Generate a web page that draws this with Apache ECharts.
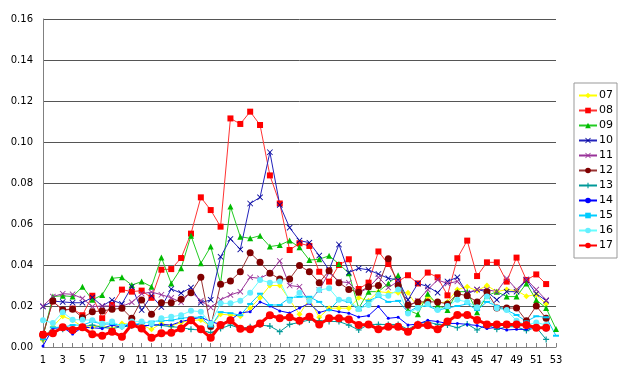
<!DOCTYPE html>
<html>
<head>
<meta charset="utf-8">
<script src="https://cdn.jsdelivr.net/npm/echarts@6/dist/echarts.min.js"></script>
<style>
html,body{margin:0;padding:0;background:#fff;}
#chart{width:620px;height:384px;}
</style>
</head>
<body>
<div id="chart"></div>
<script>
var weeks = [];
for (var i = 1; i <= 53; i++) weeks.push(String(i));

var seriesNames = ['07','08','09','10','11','12','13','14','15','16','17'];

var s07 = [0.0034,0.010,0.015,0.013,0.010,0.0096,0.0107,0.009,0.0115,0.011,0.0107,0.0086,0.0115,0.0102,0.012,0.013,0.0132,0.010,0.016,0.0156,0.015,0.019,0.024,0.030,0.030,0.023,0.016,0.0233,0.0145,0.0189,0.0189,0.0189,0.024,0.0226,0.027,0.0265,0.0265,0.0265,0.0193,0.0245,0.0215,0.022,0.028,0.0294,0.0275,0.030,0.027,0.028,0.0275,0.0248,0.0255,0.021];
var s08 = [0.0063,0.0223,0.018,0.0187,0.0155,0.025,0.014,0.0205,0.028,0.027,0.0275,0.024,0.0377,0.038,0.0434,0.0553,0.073,0.0668,0.0587,0.1115,0.1088,0.1148,0.1083,0.0837,0.070,0.0473,0.0506,0.0493,0.0367,0.0319,0.040,0.0428,0.0283,0.0314,0.0466,0.0405,0.032,0.035,0.031,0.0363,0.034,0.0252,0.0433,0.0519,0.0346,0.0413,0.0413,0.0319,0.0436,0.0327,0.0354,0.0307];
var s09 = [0.005,0.0246,0.025,0.0246,0.0294,0.023,0.0254,0.0335,0.034,0.0302,0.0319,0.0294,0.0437,0.031,0.0384,0.0543,0.0408,0.049,0.031,0.0685,0.0538,0.053,0.0543,0.049,0.0497,0.0519,0.0486,0.0424,0.0428,0.0445,0.0405,0.036,0.0189,0.027,0.027,0.031,0.035,0.018,0.016,0.026,0.0205,0.018,0.027,0.027,0.017,0.025,0.027,0.0246,0.0246,0.031,0.0229,0.019,0.0088];
var s10 = [0.0197,0.0224,0.022,0.0216,0.0216,0.0242,0.020,0.0229,0.021,0.0294,0.018,0.025,0.0195,0.0283,0.0263,0.029,0.0216,0.023,0.044,0.0527,0.0476,0.070,0.073,0.095,0.0693,0.0582,0.0519,0.0509,0.0446,0.0376,0.050,0.0363,0.0384,0.0376,0.0356,0.0335,0.0327,0.023,0.031,0.0295,0.0265,0.032,0.034,0.026,0.028,0.027,0.023,0.027,0.027,0.0327,0.026,0.0226];
var s11 = [0.020,0.0246,0.026,0.0257,0.0237,0.0197,0.020,0.020,0.0198,0.0218,0.026,0.0268,0.0255,0.024,0.0218,0.027,0.0226,0.0193,0.023,0.0254,0.027,0.034,0.0335,0.036,0.042,0.030,0.0294,0.022,0.0278,0.0363,0.0319,0.0314,0.0262,0.029,0.034,0.029,0.032,0.0197,0.0226,0.028,0.0327,0.031,0.032,0.0265,0.028,0.028,0.027,0.0335,0.028,0.033,0.028,0.0229];
var s12 = [0.006,0.0224,0.018,0.0184,0.0143,0.0172,0.0176,0.0184,0.0189,0.014,0.0229,0.016,0.0216,0.0216,0.0233,0.0265,0.034,0.010,0.0306,0.0322,0.0367,0.046,0.0413,0.036,0.0332,0.0332,0.0397,0.0367,0.0314,0.0372,0.0314,0.0281,0.0267,0.0294,0.030,0.043,0.030,0.0205,0.022,0.022,0.022,0.021,0.026,0.025,0.022,0.027,0.019,0.019,0.019,0.0128,0.020,0.014];
var s13 = [0.0036,0.008,0.0086,0.009,0.0099,0.0107,0.0096,0.009,0.0099,0.0102,0.0096,0.011,0.0105,0.0099,0.0095,0.0086,0.0083,0.007,0.009,0.0107,0.009,0.0099,0.0107,0.0102,0.0075,0.011,0.012,0.0132,0.0128,0.0125,0.0124,0.0107,0.0083,0.011,0.011,0.011,0.011,0.0086,0.0115,0.0122,0.011,0.0107,0.0094,0.0112,0.0083,0.011,0.0086,0.0099,0.0099,0.008,0.0096,0.0037];
var s14 = [0.0005,0.009,0.0096,0.0063,0.0096,0.0094,0.009,0.0107,0.0096,0.0115,0.0105,0.0105,0.011,0.0107,0.0124,0.0135,0.0145,0.0124,0.011,0.0132,0.0167,0.0172,0.022,0.020,0.0176,0.0166,0.019,0.0213,0.0168,0.0182,0.0172,0.0165,0.0146,0.0153,0.0197,0.014,0.0145,0.0107,0.0112,0.013,0.0124,0.0115,0.0115,0.011,0.0105,0.009,0.0096,0.0083,0.0086,0.0086,0.0102,0.0083];
var s15 = [0.004,0.0096,0.0096,0.0107,0.0107,0.0124,0.0112,0.0112,0.0107,0.011,0.0115,0.0124,0.0128,0.013,0.014,0.0145,0.0145,0.010,0.017,0.0165,0.0155,0.021,0.026,0.0205,0.0205,0.024,0.0245,0.0245,0.022,0.018,0.023,0.022,0.018,0.0226,0.0245,0.022,0.0225,0.017,0.0197,0.020,0.018,0.019,0.020,0.021,0.018,0.022,0.020,0.018,0.0156,0.0125,0.015,0.0145,0.0055];
var s16 = [0.013,0.0117,0.017,0.0133,0.0133,0.013,0.0114,0.0125,0.010,0.0125,0.0125,0.0114,0.014,0.0148,0.0155,0.0177,0.0172,0.0115,0.0213,0.0213,0.0226,0.0265,0.0327,0.0314,0.0319,0.0226,0.0265,0.0224,0.0278,0.0286,0.023,0.023,0.0185,0.0205,0.0255,0.025,0.028,0.0164,0.019,0.021,0.018,0.020,0.023,0.022,0.0194,0.0246,0.0189,0.018,0.0128,0.0107,0.012,0.0107];
var s17 = [0.006,0.0067,0.0096,0.0083,0.0096,0.0062,0.0055,0.0075,0.005,0.011,0.009,0.0045,0.0067,0.007,0.009,0.013,0.0086,0.0045,0.0107,0.013,0.0089,0.0086,0.0115,0.0155,0.014,0.0145,0.0128,0.0148,0.011,0.014,0.014,0.0134,0.0107,0.011,0.0086,0.0099,0.0099,0.0075,0.0107,0.0106,0.0086,0.0124,0.0156,0.0156,0.0132,0.011,0.011,0.011,0.011,0.0107,0.0094,0.0094];

var yTicks = ['0.00','0.02','0.04','0.06','0.08','0.10','0.12','0.14','0.16'];

var xPath = 'path://M0,1L1,0L5,4L9,0L10,1L6,5L10,9L9,10L5,6L1,10L0,9L4,5Z';
var plusPath = 'path://M4,0L6,0L6,4L10,4L10,6L6,6L6,10L4,10L4,6L0,6L0,4L4,4Z';

var styles = {
  '07': {line:'#ffff00', mark:'#ffff00', symbol:'diamond', size:6, width:1},
  '08': {line:'#ff3333', mark:'#ff0000', symbol:'rect', size:6, width:1},
  '09': {line:'#22cc22', mark:'#00bb00', symbol:'triangle', size:6, width:1},
  '10': {line:'#2222bb', mark:'#000099', symbol:xPath, size:6, width:1},
  '11': {line:'#993399', mark:'#993399', symbol:xPath, size:6, width:1},
  '12': {line:'#993333', mark:'#800000', symbol:'circle', size:7, width:1},
  '13': {line:'#009999', mark:'#009999', symbol:plusPath, size:6, width:1},
  '14': {line:'#0000ff', mark:'#0000ff', symbol:'circle', size:3, width:1},
  '15': {line:'#00ccff', mark:'#00ccff', symbol:'rect', size:[6,2], width:1},
  '16': {line:'#66ffff', mark:'#66eeff', symbol:'circle', size:6, width:1},
  '17': {line:'#ff0000', mark:'#ff0000', symbol:'circle', size:8, width:3}
};
var dataMap = {'07':s07,'08':s08,'09':s09,'10':s10,'11':s11,'12':s12,'13':s13,'14':s14,'15':s15,'16':s16,'17':s17};

var series = seriesNames.map(function(n){
  var st = styles[n];
  return {
    name: n,
    type: 'line',
    data: dataMap[n],
    symbol: st.symbol,
    symbolSize: st.size,
    showAllSymbol: true,
    lineStyle: {color: st.line, width: st.width},
    itemStyle: {color: st.mark, borderWidth: 0},
    emphasis: {disabled: true},
    z: n === '17' ? 5 : 2
  };
});

var chart = echarts.init(document.getElementById('chart'), null, {renderer:'canvas'});
chart.setOption({
  animation: false,
  backgroundColor: '#ffffff',
  textStyle: {fontFamily: 'DejaVu Sans'},
  grid: {left: 43, right: 64, top: 19, bottom: 37},
  legend: {
    orient: 'vertical',
    right: 3,
    top: 83,
    padding: [7, 4, 7, 4],
    itemGap: 4,
    itemWidth: 18,
    itemHeight: 7,
    borderColor: '#999999',
    borderWidth: 1,
    backgroundColor: '#ffffff',
    textStyle: {fontSize: 11, color: '#000', fontFamily: 'DejaVu Sans', padding: [0,0,0,-3]},
    data: seriesNames
  },
  xAxis: {
    type: 'category',
    data: weeks,
    boundaryGap: false,
    axisLine: {lineStyle: {color: '#808080', width: 1}},
    axisTick: {show: true, inside: true, length: 4, interval: 0, lineStyle: {color: '#808080'}},
    axisLabel: {interval: 1, color: '#000', fontSize: 10, margin: 8, fontFamily: 'DejaVu Sans'},
    splitLine: {show: false}
  },
  yAxis: {
    type: 'value',
    min: 0,
    max: 0.16,
    interval: 0.02,
    axisLine: {show: true, lineStyle: {color: '#808080', width: 1}},
    axisTick: {show: false},
    axisLabel: {color: '#000', fontSize: 10, margin: 10, fontFamily: 'DejaVu Sans',
      formatter: function(v){ return yTicks[Math.round(v/0.02)]; }},
    splitLine: {show: true, lineStyle: {color: '#555555', width: 1}}
  },
  series: series
});
</script>
</body>
</html>
